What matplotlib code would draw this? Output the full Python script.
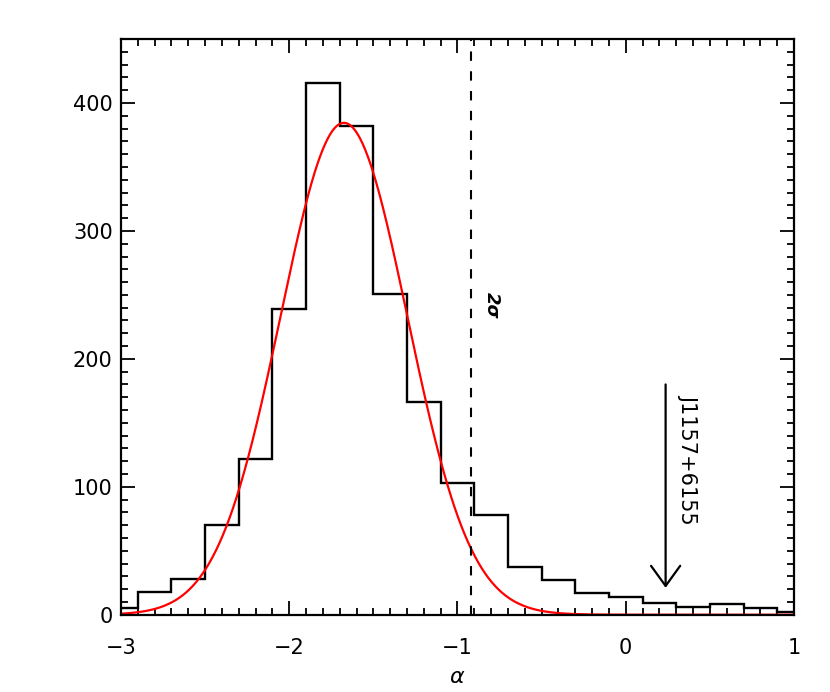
import numpy as np
import matplotlib
matplotlib.use('Agg')
import matplotlib.pyplot as plt
from matplotlib.ticker import MultipleLocator

# Histogram of spectral index alpha (bin width 0.2)
BIN_EDGES = [-3.1, -2.9, -2.7, -2.5, -2.3, -2.1, -1.9, -1.7, -1.5, -1.3, -1.1,
             -0.9, -0.7, -0.5, -0.3, -0.1, 0.1, 0.3, 0.5, 0.7, 0.9, 1.1]
COUNTS = [5, 18, 28, 70, 122, 239, 416, 382, 251, 166, 103,
          78, 37, 27, 17, 14, 9, 6, 8, 5, 2]

# Gaussian fit
FIT_AMP = 384.5
FIT_MU = -1.675
FIT_SIGMA = 0.377

TWO_SIGMA_X = -0.92
SOURCE_NAME = 'J1157+6155'
SOURCE_ALPHA = 0.237
ARROW_TOP = 180
ARROW_TIP = 21

plt.rcParams['font.family'] = 'DejaVu Sans'
plt.rcParams['font.size'] = 15

fig = plt.figure(figsize=(8.3, 6.92), dpi=100)
ax = fig.add_axes([0.1458, 0.1117, 0.8108, 0.8319])

ax.stairs(COUNTS, BIN_EDGES, color='black', linewidth=1.7)

xs = np.linspace(-3, 1, 800)
ax.plot(xs, FIT_AMP * np.exp(-0.5 * ((xs - FIT_MU) / FIT_SIGMA) ** 2),
        color='red', linewidth=1.6)

ax.axvline(TWO_SIGMA_X, color='black', linewidth=1.5, dashes=(4.5, 5))
ax.text(-0.797, 242, '2σ', rotation=-90, ha='center', va='center',
        fontsize=13, fontweight='bold', fontstyle='italic')

ax.annotate('', xy=(SOURCE_ALPHA, ARROW_TIP), xytext=(SOURCE_ALPHA, ARROW_TOP),
            arrowprops=dict(arrowstyle='->,head_length=1.45,head_width=1.05',
                            color='black', lw=1.6, mutation_scale=10,
                            shrinkA=0, shrinkB=0))
ax.text(0.372, 121.6, SOURCE_NAME, rotation=-90, ha='center', va='center',
        fontsize=15)

ax.set_xlim(-3, 1)
ax.set_ylim(0, 450)
ax.xaxis.set_major_locator(MultipleLocator(1))
ax.xaxis.set_minor_locator(MultipleLocator(0.1))
ax.yaxis.set_major_locator(MultipleLocator(100))
ax.yaxis.set_minor_locator(MultipleLocator(10))
ax.tick_params(which='both', direction='in', top=True, right=True, width=1.3)
ax.tick_params(which='major', length=10)
ax.tick_params(which='minor', length=5)
ax.tick_params(axis='x', which='major', pad=17)
ax.tick_params(axis='y', which='major', pad=6)
for sp in ax.spines.values():
    sp.set_linewidth(1.6)

ax.set_xlabel(r'$\alpha$', fontsize=16, labelpad=6)

fig.savefig('out.png', dpi=100)
